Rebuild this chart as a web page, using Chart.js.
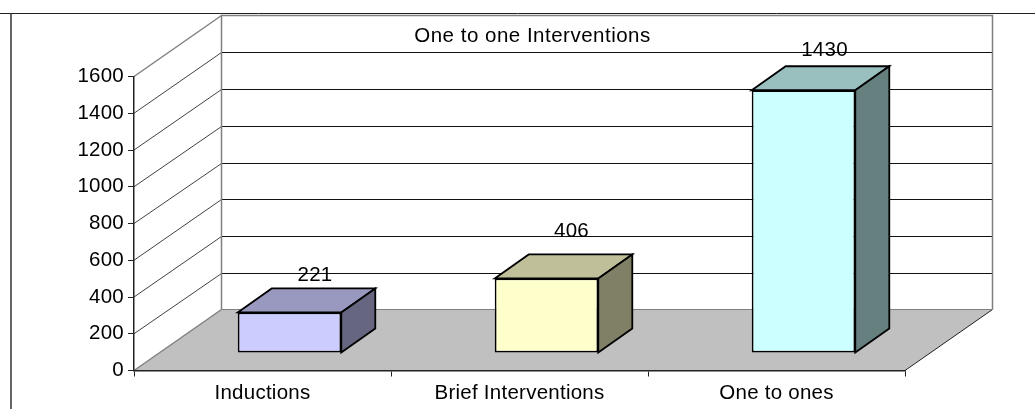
<!DOCTYPE html>
<html>
<head>
<meta charset="utf-8">
<style>
html, body { margin: 0; padding: 0; background: #fff; }
canvas { display: block; }
</style>
<script src="https://cdn.jsdelivr.net/npm/chart.js@4"></script>
</head>
<body>
<canvas id="myChart" width="1035" height="409"></canvas>
<script>
const categories = ['Inductions', 'Brief Interventions', 'One to ones'];
const values = [221, 406, 1430];
const chartTitle = 'One to one Interventions';

const frontColors = ['#CCCCFF', '#FFFFCC', '#CCFFFF'];
const topColors = ['#9999BF', '#BFBF99', '#99BFBF'];
const sideColors = ['#666680', '#808066', '#668080'];

const FONT = '"Liberation Sans", Arial, sans-serif';
const FONT_SIZE = 20.5;
// floor depth and bar depth of the fake 3D
const depthX = 87.5, depthY = -61;
const barShiftX = 27, barShiftY = -17.5;
const barDepthX = 34, barDepthY = -24;

function poly(ctx, pts, fill, stroke, lw) {
    ctx.beginPath();
    pts.forEach((p, i) => i ? ctx.lineTo(p[0], p[1]) : ctx.moveTo(p[0], p[1]));
    ctx.closePath();
    if (fill) { ctx.fillStyle = fill; ctx.fill(); }
    if (stroke) { ctx.strokeStyle = stroke; ctx.lineWidth = lw; ctx.stroke(); }
}

function line(ctx, x1, y1, x2, y2, color, lw) {
    ctx.beginPath();
    ctx.moveTo(x1, y1);
    ctx.lineTo(x2, y2);
    ctx.strokeStyle = color;
    ctx.lineWidth = lw;
    ctx.stroke();
}

const box3d = {
    id: 'box3d',
    beforeDraw(chart) {
        const ctx = chart.ctx, a = chart.chartArea, y = chart.scales.y;
        const bl = a.left + depthX, br = a.right + depthX;
        // the original text runs a bit wider than the font, axis labels pick this up too
        ctx.letterSpacing = '0.25px';
        ctx.save();
        ctx.fillStyle = '#fff';
        ctx.fillRect(0, 0, chart.width, chart.height);

        // frame of the picture
        line(ctx, 0, 13.5, 1035, 13.5, '#222', 1);
        line(ctx, 11, 13, 11, 409, '#333', 1.5);

        // floor
        poly(ctx, [[a.left, a.bottom], [a.right, a.bottom], [br, a.bottom + depthY], [bl, a.bottom + depthY]], '#C0C0C0');
        line(ctx, a.right, a.bottom, br, a.bottom + depthY, '#222', 1);

        // gridlines round the side and back wall
        y.ticks.forEach(t => {
            if (t.value === 0 || t.value === y.max) return;
            const py = y.getPixelForValue(t.value);
            const by = Math.round(py + depthY) + 0.5;
            line(ctx, a.left, py, bl, by, '#111', 0.8);
            line(ctx, bl, by, br, by, '#111', 1);
        });

        // wall outline
        const wallTop = a.top + depthY, wallBottom = a.bottom + depthY;
        line(ctx, a.left, a.top, bl, wallTop, '#808080', 1.5);
        line(ctx, a.left, a.bottom, bl, wallBottom, '#808080', 1.5);
        ctx.beginPath();
        ctx.moveTo(bl, wallBottom);
        ctx.lineTo(bl, wallTop);
        ctx.lineTo(br, wallTop);
        ctx.lineTo(br, wallBottom);
        ctx.strokeStyle = '#808080';
        ctx.lineWidth = 1.5;
        ctx.stroke();
        line(ctx, bl, wallBottom, br, wallBottom, '#808080', 1);

        ctx.restore();
    },
    beforeDatasetDraw(chart) {
        const ctx = chart.ctx;
        ctx.save();
        ctx.translate(barShiftX, barShiftY);
        ctx.lineJoin = 'miter';
        chart.getDatasetMeta(0).data.forEach((bar, i) => {
            const l = bar.x - bar.width / 2, r = bar.x + bar.width / 2;
            poly(ctx, [[l, bar.y], [l + barDepthX, bar.y + barDepthY], [r + barDepthX, bar.y + barDepthY], [r, bar.y]], topColors[i], '#000', 1.8);
            poly(ctx, [[r, bar.y], [r + barDepthX, bar.y + barDepthY], [r + barDepthX, bar.base + barDepthY], [r, bar.base]], sideColors[i], '#000', 1.8);
        });
    },
    afterDatasetDraw(chart) {
        chart.ctx.restore();
    },
    afterDatasetsDraw(chart) {
        const ctx = chart.ctx;
        ctx.save();
        ctx.fillStyle = '#000';
        ctx.font = FONT_SIZE + 'px ' + FONT;
        ctx.textAlign = 'center';
        ctx.textBaseline = 'middle';
        ctx.letterSpacing = '0.5px';
        ctx.fillText(chartTitle, 532.5, 36.5);
        ctx.letterSpacing = '0.25px';
        // value labels sit a little unevenly above the boxes in the original
        const nudge = [[25.5, -37], [25, -47], [21, -40]];
        chart.getDatasetMeta(0).data.forEach((bar, i) => {
            ctx.fillText(String(values[i]), bar.x + barShiftX + nudge[i][0], bar.y + barShiftY + nudge[i][1]);
        });
        ctx.restore();
    }
};

new Chart(document.getElementById('myChart'), {
    type: 'bar',
    data: {
        labels: categories,
        datasets: [{
            data: values,
            backgroundColor: frontColors,
            borderColor: '#000',
            borderWidth: 1.8,
            borderSkipped: false,
            categoryPercentage: 1,
            barPercentage: 0.403,
            clip: false
        }]
    },
    options: {
        responsive: false,
        animation: false,
        layout: { padding: { left: 0, top: 76.5, right: 130, bottom: 0 } },
        plugins: {
            legend: { display: false },
            title: { display: false },
            tooltip: { enabled: false }
        },
        scales: {
            x: {
                afterFit: s => { s.height = 38.5; },
                grid: { drawOnChartArea: false, tickLength: 6, color: '#222' },
                border: { color: '#222', width: 1.5 },
                ticks: { color: '#000', font: { family: FONT, size: FONT_SIZE }, padding: 5, maxRotation: 0 }
            },
            y: {
                min: 0,
                max: 1600,
                afterFit: s => { s.width = 134; },
                grid: { drawOnChartArea: false, tickLength: 6, color: '#222' },
                border: { color: '#222', width: 1.5 },
                ticks: { stepSize: 200, color: '#000', font: { family: FONT, size: FONT_SIZE }, padding: 4, callback: v => String(v) }
            }
        }
    },
    plugins: [box3d]
});
</script>
</body>
</html>
